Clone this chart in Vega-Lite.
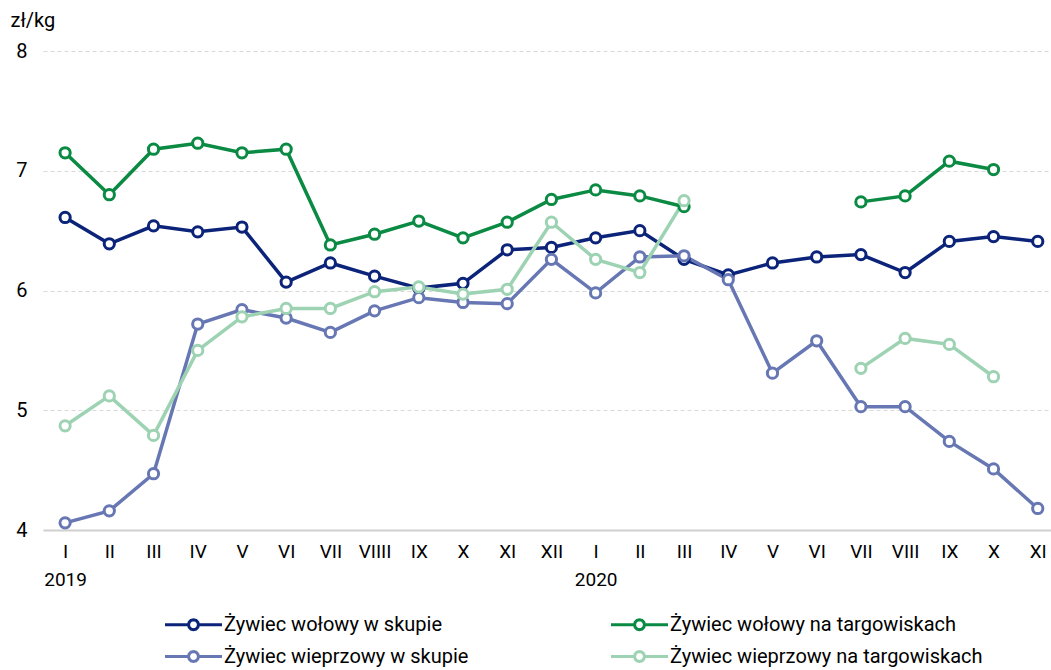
{
  "$schema": "https://vega.github.io/schema/vega-lite/v6.json",
  "width": 1008,
  "height": 479,
  "autosize": {"type": "none"},
  "padding": {"left": 43, "top": 51, "right": 0, "bottom": 140},
  "background": "white",
  "config": {
    "font": "Roboto",
    "view": {"stroke": null}
  },
  "datasets": {
    "rows": [
      {"m":0,"s":"Żywiec wołowy w skupie","v":6.61},{"m":1,"s":"Żywiec wołowy w skupie","v":6.39},{"m":2,"s":"Żywiec wołowy w skupie","v":6.54},{"m":3,"s":"Żywiec wołowy w skupie","v":6.49},{"m":4,"s":"Żywiec wołowy w skupie","v":6.53},{"m":5,"s":"Żywiec wołowy w skupie","v":6.07},{"m":6,"s":"Żywiec wołowy w skupie","v":6.23},{"m":7,"s":"Żywiec wołowy w skupie","v":6.12},{"m":8,"s":"Żywiec wołowy w skupie","v":6.02},{"m":9,"s":"Żywiec wołowy w skupie","v":6.06},{"m":10,"s":"Żywiec wołowy w skupie","v":6.34},{"m":11,"s":"Żywiec wołowy w skupie","v":6.36},{"m":12,"s":"Żywiec wołowy w skupie","v":6.44},{"m":13,"s":"Żywiec wołowy w skupie","v":6.50},{"m":14,"s":"Żywiec wołowy w skupie","v":6.26},{"m":15,"s":"Żywiec wołowy w skupie","v":6.13},{"m":16,"s":"Żywiec wołowy w skupie","v":6.23},{"m":17,"s":"Żywiec wołowy w skupie","v":6.28},{"m":18,"s":"Żywiec wołowy w skupie","v":6.30},{"m":19,"s":"Żywiec wołowy w skupie","v":6.15},{"m":20,"s":"Żywiec wołowy w skupie","v":6.41},{"m":21,"s":"Żywiec wołowy w skupie","v":6.45},{"m":22,"s":"Żywiec wołowy w skupie","v":6.41},
      {"m":0,"s":"Żywiec wołowy na targowiskach","v":7.15},{"m":1,"s":"Żywiec wołowy na targowiskach","v":6.80},{"m":2,"s":"Żywiec wołowy na targowiskach","v":7.18},{"m":3,"s":"Żywiec wołowy na targowiskach","v":7.23},{"m":4,"s":"Żywiec wołowy na targowiskach","v":7.15},{"m":5,"s":"Żywiec wołowy na targowiskach","v":7.18},{"m":6,"s":"Żywiec wołowy na targowiskach","v":6.38},{"m":7,"s":"Żywiec wołowy na targowiskach","v":6.47},{"m":8,"s":"Żywiec wołowy na targowiskach","v":6.58},{"m":9,"s":"Żywiec wołowy na targowiskach","v":6.44},{"m":10,"s":"Żywiec wołowy na targowiskach","v":6.57},{"m":11,"s":"Żywiec wołowy na targowiskach","v":6.76},{"m":12,"s":"Żywiec wołowy na targowiskach","v":6.84},{"m":13,"s":"Żywiec wołowy na targowiskach","v":6.79},{"m":14,"s":"Żywiec wołowy na targowiskach","v":6.70},{"m":15,"s":"Żywiec wołowy na targowiskach","v":null},{"m":16,"s":"Żywiec wołowy na targowiskach","v":null},{"m":17,"s":"Żywiec wołowy na targowiskach","v":null},{"m":18,"s":"Żywiec wołowy na targowiskach","v":6.74},{"m":19,"s":"Żywiec wołowy na targowiskach","v":6.79},{"m":20,"s":"Żywiec wołowy na targowiskach","v":7.08},{"m":21,"s":"Żywiec wołowy na targowiskach","v":7.01},{"m":22,"s":"Żywiec wołowy na targowiskach","v":null},
      {"m":0,"s":"Żywiec wieprzowy w skupie","v":4.06},{"m":1,"s":"Żywiec wieprzowy w skupie","v":4.16},{"m":2,"s":"Żywiec wieprzowy w skupie","v":4.47},{"m":3,"s":"Żywiec wieprzowy w skupie","v":5.72},{"m":4,"s":"Żywiec wieprzowy w skupie","v":5.84},{"m":5,"s":"Żywiec wieprzowy w skupie","v":5.77},{"m":6,"s":"Żywiec wieprzowy w skupie","v":5.65},{"m":7,"s":"Żywiec wieprzowy w skupie","v":5.83},{"m":8,"s":"Żywiec wieprzowy w skupie","v":5.94},{"m":9,"s":"Żywiec wieprzowy w skupie","v":5.90},{"m":10,"s":"Żywiec wieprzowy w skupie","v":5.89},{"m":11,"s":"Żywiec wieprzowy w skupie","v":6.26},{"m":12,"s":"Żywiec wieprzowy w skupie","v":5.98},{"m":13,"s":"Żywiec wieprzowy w skupie","v":6.28},{"m":14,"s":"Żywiec wieprzowy w skupie","v":6.29},{"m":15,"s":"Żywiec wieprzowy w skupie","v":6.09},{"m":16,"s":"Żywiec wieprzowy w skupie","v":5.31},{"m":17,"s":"Żywiec wieprzowy w skupie","v":5.58},{"m":18,"s":"Żywiec wieprzowy w skupie","v":5.03},{"m":19,"s":"Żywiec wieprzowy w skupie","v":5.03},{"m":20,"s":"Żywiec wieprzowy w skupie","v":4.74},{"m":21,"s":"Żywiec wieprzowy w skupie","v":4.51},{"m":22,"s":"Żywiec wieprzowy w skupie","v":4.18},
      {"m":0,"s":"Żywiec wieprzowy na targowiskach","v":4.87},{"m":1,"s":"Żywiec wieprzowy na targowiskach","v":5.12},{"m":2,"s":"Żywiec wieprzowy na targowiskach","v":4.79},{"m":3,"s":"Żywiec wieprzowy na targowiskach","v":5.50},{"m":4,"s":"Żywiec wieprzowy na targowiskach","v":5.78},{"m":5,"s":"Żywiec wieprzowy na targowiskach","v":5.85},{"m":6,"s":"Żywiec wieprzowy na targowiskach","v":5.85},{"m":7,"s":"Żywiec wieprzowy na targowiskach","v":5.99},{"m":8,"s":"Żywiec wieprzowy na targowiskach","v":6.03},{"m":9,"s":"Żywiec wieprzowy na targowiskach","v":5.97},{"m":10,"s":"Żywiec wieprzowy na targowiskach","v":6.01},{"m":11,"s":"Żywiec wieprzowy na targowiskach","v":6.57},{"m":12,"s":"Żywiec wieprzowy na targowiskach","v":6.26},{"m":13,"s":"Żywiec wieprzowy na targowiskach","v":6.15},{"m":14,"s":"Żywiec wieprzowy na targowiskach","v":6.75},{"m":15,"s":"Żywiec wieprzowy na targowiskach","v":null},{"m":16,"s":"Żywiec wieprzowy na targowiskach","v":null},{"m":17,"s":"Żywiec wieprzowy na targowiskach","v":null},{"m":18,"s":"Żywiec wieprzowy na targowiskach","v":5.35},{"m":19,"s":"Żywiec wieprzowy na targowiskach","v":5.60},{"m":20,"s":"Żywiec wieprzowy na targowiskach","v":5.55},{"m":21,"s":"Żywiec wieprzowy na targowiskach","v":5.28},{"m":22,"s":"Żywiec wieprzowy na targowiskach","v":null}
    ]
  },
  "data": {"name": "rows"},
  "encoding": {
    "x": {
      "field": "m", "type": "quantitative",
      "scale": {"domain": [-0.5, 22.3], "nice": false, "zero": false},
      "axis": {
        "title": null,
        "values": [0,1,2,3,4,5,6,7,8,9,10,11,12,13,14,15,16,17,18,19,20,21,22],
        "labelExpr": "datum.value == 0 ? ['I','2019'] : datum.value == 12 ? ['I','2020'] : ['I','II','III','IV','V','VI','VII','VIIII','IX','X','XI','XII','I','II','III','IV','V','VI','VII','VIII','IX','X','XI'][datum.value]",
        "grid": false, "ticks": false,
        "domainColor": "#d0d0d0", "domainWidth": 2,
        "labelFontSize": 19, "labelColor": "#000000", "labelPadding": 12,
        "labelLineHeight": 28, "labelFlush": false, "labelOverlap": false, "labelBound": false
      }
    },
    "y": {
      "field": "v", "type": "quantitative",
      "scale": {"domain": [4, 8], "nice": false, "zero": false},
      "axis": {
        "values": [4,5,6,7,8],
        "title": "zł/kg", "titleAngle": 0, "titleAlign": "left", "titleBaseline": "alphabetic",
        "titleX": -33, "titleY": -25, "titleFontWeight": "normal", "titleFontSize": 20, "titleColor": "#000000",
        "grid": true, "gridDash": [4, 3], "gridColor": "#d9d9d9", "gridWidth": 1,
        "domain": false, "ticks": false,
        "labelFontSize": 20, "labelColor": "#000000", "labelPadding": 16
      }
    },
    "color": {
      "field": "s", "type": "nominal",
      "scale": {
        "domain": ["Żywiec wołowy w skupie", "Żywiec wieprzowy w skupie", "Żywiec wołowy na targowiskach", "Żywiec wieprzowy na targowiskach"],
        "range": ["#0b2379", "#6777b3", "#0a8a43", "#9dd2b3"]
      },
      "legend": {
        "title": null, "orient": "none", "legendX": 122, "legendY": 562,
        "columns": 2, "columnPadding": 136, "rowPadding": 9,
        "labelFontSize": 20, "labelColor": "#000000", "labelOffset": 36, "labelLimit": 500,
        "symbolType": "M-1.15,0L1.2,0M2.2,0L4.55,0M2.2,0L2.133,0.25L1.95,0.433L1.7,0.5L1.45,0.433L1.267,0.25L1.2,0L1.267,-0.25L1.45,-0.433L1.7,-0.5L1.95,-0.433L2.133,-0.25Z",
        "symbolSize": 400, "symbolStrokeWidth": 3, "symbolFillColor": "white", "symbolOpacity": 1
      }
    }
  },
  "layer": [
    {"mark": {"type": "line", "strokeWidth": 3.5, "invalid": "break-paths-show-domains"}},
    {"mark": {"type": "point", "shape": "circle", "filled": false, "fill": "white", "fillOpacity": 1, "opacity": 1, "size": 105, "strokeWidth": 3}}
  ]
}
